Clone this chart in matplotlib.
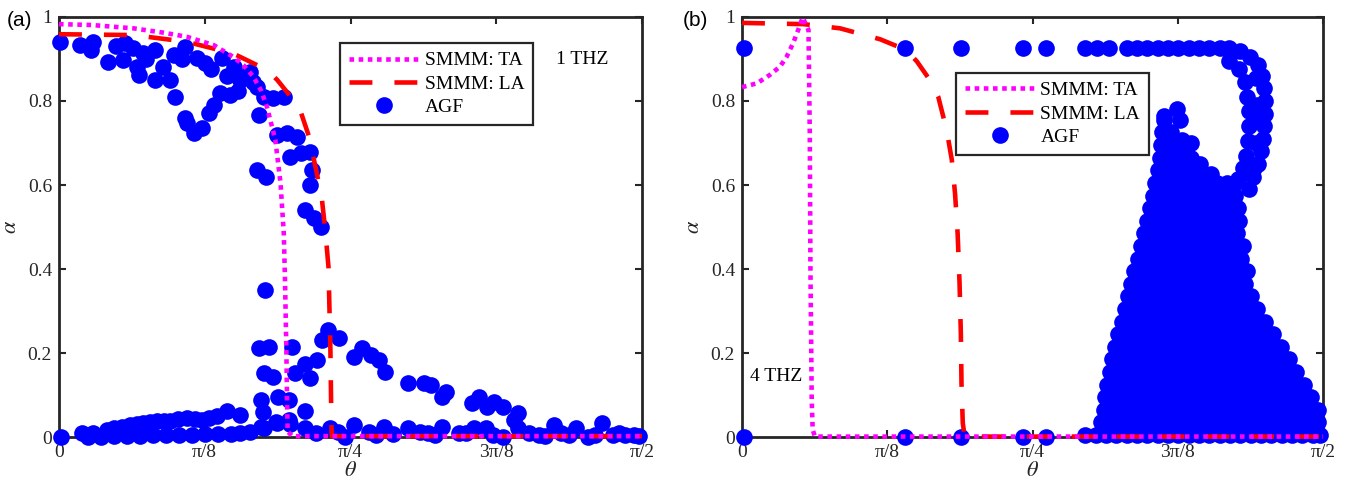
import numpy as np
import matplotlib
matplotlib.use("Agg")
import matplotlib.pyplot as plt

plt.rcParams["font.family"] = ["Liberation Serif", "DejaVu Serif"]
plt.rcParams["mathtext.fontset"] = "stix"

# ---------------------------------------------------------------
# Panel (a): 1 THz  (angles in degrees, converted to radians below)
# ---------------------------------------------------------------
ta_a_deg = [0.0, 5.0, 11.5, 16.0, 19.7, 23.9, 26.9, 28.5, 30.0, 31.2, 32.1,
            33.4, 34.2, 34.7, 34.9, 35.1, 35.2, 35.3, 36.0, 90.0]
ta_a_val = [0.983, 0.981, 0.973, 0.963, 0.953, 0.933, 0.905, 0.885, 0.858,
            0.825, 0.786, 0.707, 0.604, 0.485, 0.366, 0.207, 0.088, 0.013,
            0.002, 0.002]

la_a_deg = [0.0, 11.5, 19.7, 26.9, 32.1, 33.7, 36.2, 37.3, 38.6, 39.8, 40.6,
            41.1, 41.6, 41.9, 42.0, 42.1, 90.0]
la_a_val = [0.959, 0.957, 0.941, 0.913, 0.874, 0.850, 0.802, 0.775, 0.715,
            0.628, 0.564, 0.493, 0.405, 0.207, 0.088, 0.002, 0.002]

agf_a_upper_deg = [0.2, 3.2, 5.3, 5.0, 7.6, 10.2, 9.9, 12.0, 12.3, 14.8, 13.5,
                   14.8, 17.7, 17.2, 17.9, 19.5, 21.3, 19.7, 20.8, 22.1, 23.1,
                   23.9, 24.9, 26.4, 25.2, 27.0, 28.0, 29.5, 30.6, 31.6, 30.8,
                   33.1, 34.7, 33.7, 35.2, 36.8, 35.7, 37.3, 38.8, 39.1, 38.8,
                   30.6, 31.9, 38.0, 39.3, 40.4, 31.8, 8.8, 11.5, 13.0, 16.0,
                   19.0, 22.5, 23.5, 26.0, 28.8, 27.6, 30.0, 19.5]
agf_a_upper_val = [0.941, 0.933, 0.941, 0.921, 0.894, 0.937, 0.898, 0.882,
                   0.862, 0.921, 0.900, 0.850, 0.910, 0.850, 0.810, 0.929,
                   0.902, 0.747, 0.723, 0.735, 0.771, 0.790, 0.818, 0.814,
                   0.902, 0.882, 0.850, 0.870, 0.834, 0.810, 0.767, 0.806,
                   0.810, 0.719, 0.723, 0.715, 0.667, 0.675, 0.679, 0.636,
                   0.600, 0.636, 0.620, 0.540, 0.521, 0.501, 0.350, 0.930,
                   0.925, 0.915, 0.880, 0.900, 0.890, 0.875, 0.860, 0.860,
                   0.825, 0.845, 0.760]

agf_a_mid_deg = [30.8, 32.4, 31.6, 33.1, 36.0, 36.5, 38.0, 38.8, 39.8, 40.6,
                 41.6, 43.2, 45.5, 46.8, 48.1, 49.4, 50.4, 53.8, 56.3, 57.4,
                 59.2, 59.7, 63.8, 64.8, 66.1, 67.2, 68.5, 70.8, 31.2, 31.5,
                 33.8, 35.5, 37.9, 33.5, 35.5, 31.2, 70.3]
agf_a_mid_val = [0.211, 0.215, 0.152, 0.144, 0.215, 0.152, 0.175, 0.140,
                 0.183, 0.231, 0.255, 0.235, 0.191, 0.211, 0.195, 0.183,
                 0.155, 0.128, 0.128, 0.124, 0.096, 0.108, 0.080, 0.096,
                 0.072, 0.084, 0.072, 0.056, 0.087, 0.059, 0.095, 0.087,
                 0.063, 0.036, 0.040, 0.024, 0.040]

agf_a_low_deg = [0.3, 3.5, 5.3, 7.4, 8.5, 9.7, 11.0, 12.0, 13.0, 14.0, 15.1,
                 16.2, 17.2, 18.4, 19.7, 21.0, 22.1, 23.2, 24.4, 25.9, 28.0,
                 4.5, 6.5, 8.5, 10.5, 12.5, 14.5, 16.5, 18.5, 20.5, 22.5, 24.5,
                 26.5, 28.0, 29.5, 31.6, 33.7, 35.7, 38.0, 39.6, 41.9, 43.1,
                 44.2, 45.5, 47.8, 49.0, 50.1, 51.5, 53.8, 55.8, 56.9, 58.0,
                 59.2, 61.7, 62.8, 64.1, 65.9, 67.0, 68.5, 70.8, 72.5, 74.1,
                 75.0, 76.4, 77.5, 78.8, 79.8, 81.6, 82.8, 83.9, 85.5, 86.4,
                 87.3, 88.8, 89.6]
agf_a_low_val = [0.001, 0.009, 0.009, 0.017, 0.021, 0.025, 0.029, 0.031,
                 0.033, 0.035, 0.037, 0.039, 0.037, 0.042, 0.045, 0.042,
                 0.041, 0.046, 0.049, 0.061, 0.053, 0.000, 0.000, 0.002,
                 0.003, 0.003, 0.004, 0.004, 0.005, 0.005, 0.006, 0.006,
                 0.008, 0.010, 0.013, 0.021, 0.033, 0.032, 0.021, 0.009,
                 0.021, 0.013, 0.001, 0.029, 0.013, 0.005, 0.025, 0.008,
                 0.021, 0.013, 0.009, 0.005, 0.025, 0.009, 0.010, 0.021,
                 0.021, 0.005, 0.001, 0.021, 0.010, 0.005, 0.003, 0.029,
                 0.010, 0.005, 0.021, 0.001, 0.005, 0.033, 0.005, 0.010,
                 0.005, 0.005, 0.003]

# ---------------------------------------------------------------
# Panel (b): 4 THz
# ---------------------------------------------------------------
ta_b_deg = [0.0, 2.3, 4.3, 5.9, 6.9, 7.9, 8.7, 9.4, 10.3, 10.5, 10.6, 10.8,
            10.95, 11.3, 90.0]
ta_b_val = [0.833, 0.842, 0.862, 0.882, 0.905, 0.937, 0.969, 0.999, 0.969,
            0.723, 0.405, 0.088, 0.017, 0.001, 0.001]

la_b_deg = [0.0, 9.5, 15.2, 21.4, 25.5, 27.1, 29.1, 30.4, 31.7, 32.5, 33.0,
            33.4, 33.7, 33.9, 34.0, 34.2, 34.5, 90.0]
la_b_val = [0.986, 0.983, 0.973, 0.947, 0.921, 0.894, 0.850, 0.810, 0.731,
            0.660, 0.580, 0.485, 0.366, 0.247, 0.128, 0.033, 0.001, 0.001]

# isolated AGF points before the dense region
agf_b_iso_deg = [0.3, 25.3, 34.0, 43.6, 47.1, 0.3, 25.3, 34.0, 43.6, 47.1,
                 53.2, 55.0, 56.8, 59.6, 61.2, 62.8, 64.4, 66.0, 67.6, 69.2,
                 70.8, 72.4, 74.0, 65.3, 67.4, 65.6, 68.2, 69.5, 71.0, 72.7]
agf_b_iso_val = [0.925, 0.925, 0.925, 0.925, 0.925, 0.001, 0.001, 0.001,
                 0.001, 0.001, 0.926, 0.926, 0.926, 0.926, 0.926, 0.926,
                 0.926, 0.926, 0.926, 0.926, 0.926, 0.926, 0.926, 0.764,
                 0.780, 0.724, 0.708, 0.700, 0.651, 0.627]

# the bent band that joins the top row to the dense region
agf_b_band_deg = [75.5, 77.2, 78.7, 79.9, 80.6, 80.9, 81.0, 81.0, 80.9, 80.7,
                  80.4, 79.9, 79.2, 78.5, 75.5, 77.0, 77.9, 78.3, 78.5, 78.5,
                  78.4, 78.1, 77.6, 76.9, 79.6, 79.8, 79.8, 79.6, 79.3]
agf_b_band_val = [0.926, 0.918, 0.905, 0.885, 0.860, 0.830, 0.800, 0.770,
                  0.740, 0.710, 0.680, 0.650, 0.620, 0.590, 0.895, 0.875,
                  0.845, 0.810, 0.775, 0.740, 0.705, 0.670, 0.640, 0.615,
                  0.855, 0.790, 0.755, 0.700, 0.640]

# dense region, one list of angles per alpha level
blob_row_val = [0.005, 0.035, 0.065, 0.095, 0.125, 0.155, 0.185, 0.215,
                0.245, 0.275, 0.305, 0.335, 0.365, 0.395, 0.425, 0.455,
                0.485, 0.515, 0.545, 0.575, 0.605, 0.635, 0.665, 0.695,
                0.725, 0.755]
blob_row_deg = [
    [53.2, 54.8, 56.4, 58.0, 59.6, 61.2, 62.8, 64.4, 66.0, 67.6, 69.2, 70.8,
     72.4, 74.0, 75.6, 77.2, 78.8, 80.4, 82.0, 83.6, 85.2, 86.8, 88.4, 89.6],
    [55.6, 57.2, 58.8, 60.4, 62.0, 63.6, 65.2, 66.8, 68.4, 70.0, 71.6, 73.2,
     74.8, 76.4, 78.0, 79.6, 81.2, 82.8, 84.4, 86.0, 87.6, 89.2],
    [56.0, 57.6, 59.2, 60.8, 62.4, 64.0, 65.6, 67.2, 68.8, 70.4, 72.0, 73.6,
     75.2, 76.8, 78.4, 80.0, 81.6, 83.2, 84.8, 86.4, 88.0, 89.2],
    [56.3, 57.9, 59.5, 61.1, 62.7, 64.3, 65.9, 67.5, 69.1, 70.7, 72.3, 73.9,
     75.5, 77.1, 78.7, 80.3, 81.9, 83.5, 85.1, 86.7, 88.2],
    [56.6, 58.2, 59.8, 61.4, 63.0, 64.6, 66.2, 67.8, 69.4, 71.0, 72.6, 74.2,
     75.8, 77.4, 79.0, 80.6, 82.2, 83.8, 85.4, 87.0],
    [57.0, 58.6, 60.2, 61.8, 63.4, 65.0, 66.6, 68.2, 69.8, 71.4, 73.0, 74.6,
     76.2, 77.8, 79.4, 81.0, 82.6, 84.2, 85.8],
    [57.3, 58.9, 60.5, 62.1, 63.7, 65.3, 66.9, 68.5, 70.1, 71.7, 73.3, 74.9,
     76.5, 78.1, 79.7, 81.3, 82.9, 84.7],
    [57.8, 59.4, 61.0, 62.6, 64.2, 65.8, 67.4, 69.0, 70.6, 72.2, 73.8, 75.4,
     77.0, 78.6, 80.2, 81.8, 83.5],
    [58.3, 59.9, 61.5, 63.1, 64.7, 66.3, 67.9, 69.5, 71.1, 72.7, 74.3, 75.9,
     77.5, 79.1, 80.7, 82.3],
    [58.8, 60.4, 62.0, 63.6, 65.2, 66.8, 68.4, 70.0, 71.6, 73.2, 74.8, 76.4,
     78.0, 79.6, 81.0],
    [59.3, 60.9, 62.5, 64.1, 65.7, 67.3, 68.9, 70.5, 72.1, 73.7, 75.3, 76.9,
     78.5, 79.8],
    [59.8, 61.4, 63.0, 64.6, 66.2, 67.8, 69.4, 71.0, 72.6, 74.2, 75.8, 77.4,
     78.8],
    [60.3, 61.9, 63.5, 65.1, 66.7, 68.3, 69.9, 71.5, 73.1, 74.7, 76.3, 77.9],
    [60.8, 62.4, 64.0, 65.6, 67.2, 68.8, 70.4, 72.0, 73.6, 75.2, 76.8, 78.2],
    [61.3, 62.9, 64.5, 66.1, 67.7, 69.3, 70.9, 72.5, 74.1, 75.7, 77.3],
    [61.8, 63.4, 65.0, 66.6, 68.2, 69.8, 71.4, 73.0, 74.6, 76.2, 77.6],
    [62.3, 63.9, 65.5, 67.1, 68.7, 70.3, 71.9, 73.5, 75.1, 76.7],
    [62.8, 64.4, 66.0, 67.6, 69.2, 70.8, 72.4, 74.0, 75.6, 77.0],
    [63.2, 64.8, 66.4, 68.0, 69.6, 71.2, 72.8, 74.4, 76.0, 76.9],
    [63.6, 65.2, 66.8, 68.4, 70.0, 71.6, 73.2, 74.8, 76.4],
    [64.0, 65.6, 67.2, 68.8, 70.4, 72.0, 73.6, 75.2, 76.4],
    [64.4, 66.0, 67.6, 69.2, 70.8],
    [64.7, 66.3, 67.9, 69.5],
    [64.9, 66.5, 68.1],
    [65.1, 66.5],
    [65.4, 67.9],
]

theta_ticklabels = ["0", "π/8", "π/4", "3π/8", "π/2"]
alpha_ticks = [0, 0.2, 0.4, 0.6, 0.8, 1.0]
alpha_ticklabels = ["0", "0.2", "0.4", "0.6", "0.8", "1"]

AX_COLOR = "#262626"


def rad(deg):
    return np.deg2rad(np.asarray(deg, dtype=float))


def draw_panel(ax, ta, la, agf_deg, agf_val, legend_xy):
    # AGF points first so the model curves stay on top
    h_agf, = ax.plot(rad(agf_deg), agf_val, ls="none", marker="o", ms=12,
                     mfc="#0000ff", mec="#0000ff", mew=0, clip_on=False,
                     zorder=2)
    h_la, = ax.plot(rad(la[0]), la[1], color="#ff0000", lw=3.3,
                    ls=(0, (5, 4.8)), zorder=3, clip_on=False)
    h_ta, = ax.plot(rad(ta[0]), ta[1], color="#ff00ff", lw=3.3,
                    ls=(0, (1, 1)), zorder=4, clip_on=False)

    ax.set_xlim(0, np.pi / 2)
    ax.set_ylim(0, 1)
    ax.set_xticks(np.arange(5) * np.pi / 8)
    ax.set_xticklabels(theta_ticklabels)
    ax.set_yticks(alpha_ticks)
    ax.set_yticklabels(alpha_ticklabels)
    ax.tick_params(direction="in", top=True, right=True, length=5,
                   width=1.5, labelsize=14, pad=5, color=AX_COLOR,
                   labelcolor=AX_COLOR)
    for sp in ax.spines.values():
        sp.set_linewidth(2)
        sp.set_color(AX_COLOR)
        sp.set_zorder(1.5)

    ax.set_xlabel(r"$\theta$", fontsize=16, labelpad=1, color=AX_COLOR)
    ax.set_ylabel(r"$\alpha$", fontsize=16, labelpad=5, color=AX_COLOR)

    leg = ax.legend([h_ta, h_la, h_agf], ["SMMM: TA", "SMMM: LA", "AGF"],
                    loc="upper left", bbox_to_anchor=legend_xy,
                    borderaxespad=0, fontsize=14, handlelength=3.6,
                    handletextpad=0.3, labelspacing=0.3, borderpad=0.45,
                    fancybox=False, framealpha=1, edgecolor=AX_COLOR,
                    numpoints=1)
    leg.get_frame().set_linewidth(1.6)
    leg.set_zorder(6)


fig = plt.figure(figsize=(13.54, 4.96), dpi=100)
ax_a = fig.add_axes([59 / 1354, 59 / 496, 583 / 1354, 420 / 496])
ax_b = fig.add_axes([742 / 1354, 59 / 496, 581 / 1354, 420 / 496])

agf_a_deg = agf_a_upper_deg + agf_a_mid_deg + agf_a_low_deg
agf_a_val = agf_a_upper_val + agf_a_mid_val + agf_a_low_val
draw_panel(ax_a, (ta_a_deg, ta_a_val), (la_a_deg, la_a_val),
           agf_a_deg, agf_a_val, (0.482, 0.938))
ax_a.text(0.897, 0.898, "1 THZ", transform=ax_a.transAxes, fontsize=14,
          ha="center", va="center", color="black")

blob_deg = [d for row in blob_row_deg for d in row]
blob_val = [v for row, v in zip(blob_row_deg, blob_row_val) for _ in row]
agf_b_deg = agf_b_iso_deg + agf_b_band_deg + blob_deg
agf_b_val = agf_b_iso_val + agf_b_band_val + blob_val
draw_panel(ax_b, (ta_b_deg, ta_b_val), (la_b_deg, la_b_val),
           agf_b_deg, agf_b_val, (0.368, 0.867))
ax_b.text(0.014, 0.145, "4 THZ", transform=ax_b.transAxes, fontsize=14,
          ha="left", va="center", color="black")

fig.text(7 / 1354, 1 - 21 / 496, "(a)", family="Liberation Sans",
         fontsize=15, ha="left", va="center")
fig.text(683 / 1354, 1 - 21 / 496, "(b)", family="Liberation Sans",
         fontsize=15, ha="left", va="center")

fig.savefig("out.png", dpi=100)
